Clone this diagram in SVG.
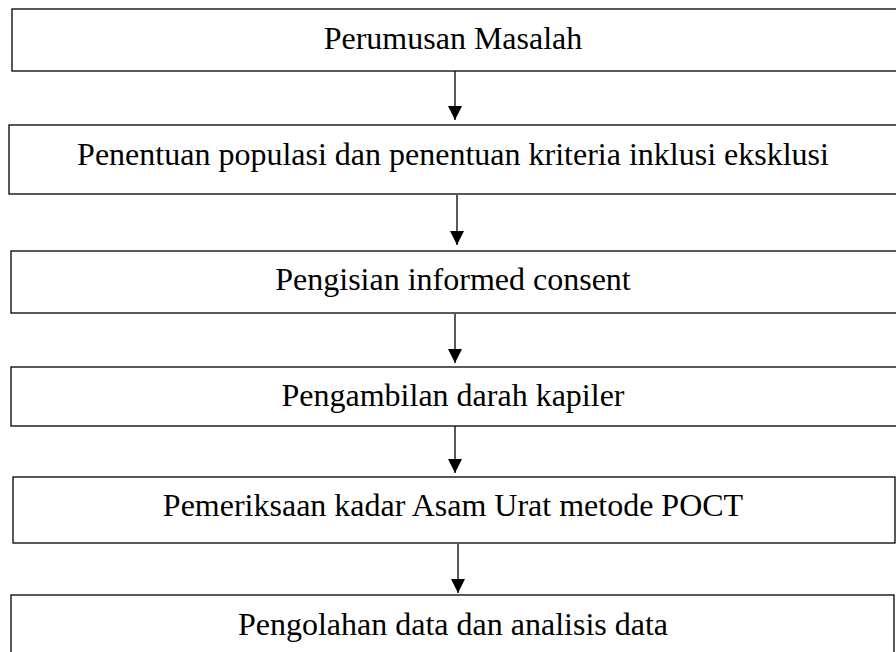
<svg xmlns="http://www.w3.org/2000/svg" width="896" height="652" viewBox="0 0 896 652">
<style>
.box{fill:#fff;stroke:#000;stroke-width:1.3}
.lbl{font-family:"Liberation Serif","Times New Roman",serif;font-size:32px;fill:#000;text-anchor:middle}
.con{stroke:#000;stroke-width:1.3;fill:none}
</style>
<defs>
<marker id="ah" markerUnits="userSpaceOnUse" markerWidth="14" markerHeight="16" refX="14" refY="7" orient="auto" viewBox="0 0 14 14">
<path d="M0,0 L14,7 L0,14 Z" fill="#000"/>
</marker>
</defs>
<rect width="896" height="652" fill="#fff"/>
<g id="n1"><rect class="box" x="12" y="9" width="900" height="62"/><text class="lbl" x="453" y="49">Perumusan Masalah</text></g>
<g id="n2"><rect class="box" x="9" y="125" width="900" height="69"/><text class="lbl" x="453" y="165">Penentuan populasi dan penentuan kriteria inklusi eksklusi</text></g>
<g id="n3"><rect class="box" x="11" y="251" width="900" height="62"/><text class="lbl" x="453" y="290">Pengisian informed consent</text></g>
<g id="n4"><rect class="box" x="11" y="367" width="900" height="59"/><text class="lbl" x="453" y="406">Pengambilan darah kapiler</text></g>
<g id="n5"><rect class="box" x="13" y="477" width="882" height="66"/><text class="lbl" x="453" y="516">Pemeriksaan kadar Asam Urat metode POCT</text></g>
<g id="n6"><rect class="box" x="11" y="595" width="883" height="70"/><text class="lbl" x="453" y="635">Pengolahan data dan analisis data</text></g>
<g id="connectors">
<line class="con" x1="455" y1="71" x2="455" y2="120" marker-end="url(#ah)"/>
<line class="con" x1="457" y1="195" x2="457" y2="245" marker-end="url(#ah)"/>
<line class="con" x1="455" y1="314" x2="455" y2="363" marker-end="url(#ah)"/>
<line class="con" x1="455" y1="426" x2="455" y2="473" marker-end="url(#ah)"/>
<line class="con" x1="458" y1="544" x2="458" y2="593" marker-end="url(#ah)"/>
</g>
</svg>
